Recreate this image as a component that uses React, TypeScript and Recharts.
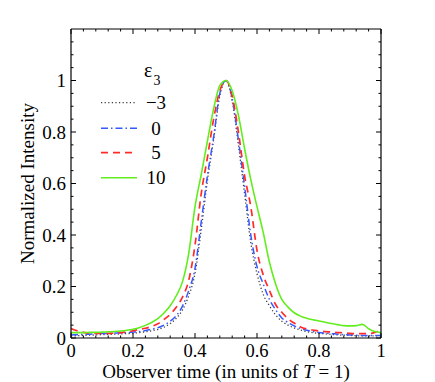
import { LineChart, Line, XAxis, YAxis, Legend } from "recharts";

// observer time samples (units of T)
const times = [
  0, 0.02, 0.04, 0.06, 0.08, 0.1, 0.12, 0.14, 0.16, 0.18, 0.2, 0.22, 0.24, 0.26, 0.28, 0.3, 0.32,
  0.34, 0.36, 0.38, 0.4, 0.42, 0.44, 0.46, 0.48, 0.5, 0.52, 0.54, 0.56, 0.58, 0.6, 0.62, 0.64,
  0.66, 0.68, 0.7, 0.72, 0.74, 0.76, 0.78, 0.8, 0.82, 0.84, 0.86, 0.88, 0.9, 0.92, 0.94, 0.96,
  0.98, 1,
];

// eps3 = -3
const intensityMinus3 = [
  0.008, 0.009, 0.01, 0.011, 0.012, 0.013, 0.014, 0.015, 0.016, 0.017, 0.019, 0.021, 0.024,
  0.028, 0.033, 0.042, 0.056, 0.077, 0.11, 0.165, 0.25, 0.42, 0.61, 0.77, 0.94, 1.0, 0.92, 0.75,
  0.56, 0.37, 0.25, 0.17, 0.125, 0.09, 0.065, 0.05, 0.039, 0.031, 0.025, 0.021, 0.018, 0.016,
  0.014, 0.012, 0.011, 0.01, 0.009, 0.008, 0.008, 0.008, 0.008,
];

// eps3 = 0
const intensity0 = [
  0.012, 0.013, 0.014, 0.015, 0.016, 0.017, 0.018, 0.019, 0.02, 0.021, 0.023, 0.025, 0.029,
  0.034, 0.04, 0.05, 0.065, 0.087, 0.125, 0.185, 0.27, 0.45, 0.63, 0.78, 0.95, 1.0, 0.93, 0.77,
  0.59, 0.4, 0.277, 0.21, 0.15, 0.11, 0.078, 0.06, 0.047, 0.037, 0.03, 0.025, 0.021, 0.019,
  0.017, 0.015, 0.013, 0.012, 0.011, 0.01, 0.01, 0.01, 0.01,
];

// eps3 = 5
const intensity5 = [
  0.037, 0.028, 0.022, 0.019, 0.018, 0.018, 0.018, 0.019, 0.021, 0.024, 0.028, 0.033, 0.038,
  0.045, 0.055, 0.072, 0.092, 0.12, 0.16, 0.225, 0.36, 0.56, 0.7, 0.85, 0.96, 1.0, 0.94, 0.8,
  0.63, 0.51, 0.34, 0.245, 0.185, 0.13, 0.1, 0.075, 0.058, 0.043, 0.035, 0.031, 0.027, 0.025,
  0.023, 0.021, 0.02, 0.018, 0.017, 0.017, 0.017, 0.022, 0.033,
];

// eps3 = 10
const intensity10 = [
  0.021, 0.021, 0.021, 0.022, 0.022, 0.023, 0.024, 0.025, 0.027, 0.03, 0.034, 0.04, 0.049, 0.06,
  0.075, 0.097, 0.125, 0.165, 0.22, 0.33, 0.51, 0.634, 0.764, 0.89, 0.98, 1.0, 0.96, 0.865,
  0.735, 0.615, 0.51, 0.41, 0.295, 0.21, 0.15, 0.12, 0.098, 0.085, 0.077, 0.071, 0.066, 0.061,
  0.056, 0.052, 0.048, 0.047, 0.048, 0.053, 0.036, 0.025, 0.021,
];

const xTicks = [
  0, 0.04, 0.08, 0.12, 0.16, 0.2, 0.24, 0.28, 0.32, 0.36, 0.4, 0.44, 0.48, 0.52, 0.56, 0.6, 0.64,
  0.68, 0.72, 0.76, 0.8, 0.84, 0.88, 0.92, 0.96, 1,
];
const yTicks = [
  0, 0.05, 0.1, 0.15, 0.2, 0.25, 0.3, 0.35, 0.4, 0.45, 0.5, 0.55, 0.6, 0.65, 0.7, 0.75, 0.8, 0.85,
  0.9, 0.95, 1, 1.05, 1.1, 1.15,
];
const majorLabels = ["0", "0.2", "0.4", "0.6", "0.8", "1"];

const series = [
  { key: "m3", label: "\u22123", values: intensityMinus3, color: "#3a3a3a", dash: "1.2 2.4", width: 1.3 },
  { key: "z0", label: "0", values: intensity0, color: "#3558ff", dash: "7 3 1.5 3", width: 1.5 },
  { key: "p5", label: "5", values: intensity5, color: "#ff2b2b", dash: "7 5", width: 1.7 },
  { key: "p10", label: "10", values: intensity10, color: "#62ee1e", dash: undefined, width: 1.6 },
];

const data = times.map((t, i) => {
  const row: Record<string, number> = { t };
  series.forEach((s) => (row[s.key] = s.values[i]));
  return row;
});

const serif = { fontFamily: "Liberation Serif, DejaVu Serif, serif" };

const majorIndex = (v: number) => {
  const k = Math.round(v * 5);
  return Math.abs(v * 5 - k) < 1e-6 && k <= 5 ? k : -1;
};

// ticks are drawn inward, labels only on bottom/left
const makeTick = (side: "bottom" | "top" | "left" | "right") => (props: any) => {
  const { x, y, payload } = props;
  const k = majorIndex(payload.value);
  const len = k >= 0 ? 5 : 2.5;
  let x2 = x;
  let y2 = y;
  if (side === "bottom") y2 = y - len;
  else if (side === "top") y2 = y + len;
  else if (side === "left") x2 = x + len;
  else x2 = x - len;
  return (
    <g>
      <line x1={x} y1={y} x2={x2} y2={y2} stroke="#000" strokeWidth={1} />
      {k >= 0 && side === "bottom" && (
        <text x={x} y={y + 19} textAnchor="middle" fontSize={18.5} style={serif} fill="#000">
          {majorLabels[k]}
        </text>
      )}
      {k >= 0 && side === "left" && (
        <text x={x - 5} y={y + 6.5} textAnchor="end" fontSize={19} style={serif} fill="#000">
          {majorLabels[k]}
        </text>
      )}
    </g>
  );
};

const rowY = [42.7, 68.3, 92.7, 117.7];

const renderLegend = () => (
  <svg width={90} height={130} style={{ display: "block", overflow: "visible" }}>
    <text x={49} y={16.5} fontSize={20} style={serif} fill="#000">
      ε
    </text>
    <text x={58.5} y={25} fontSize={14} style={serif} fill="#000">
      3
    </text>
    {series.map((s, i) => (
      <g key={s.key}>
        <line
          x1={6}
          x2={42}
          y1={rowY[i]}
          y2={rowY[i]}
          stroke={s.color}
          strokeWidth={s.width}
          strokeDasharray={s.dash}
        />
        <text x={61} y={rowY[i] + 6.5} textAnchor="middle" fontSize={19} style={serif} fill="#000">
          {s.label}
        </text>
      </g>
    ))}
  </svg>
);

const App = () => {
  return (
    <div style={{ position: "absolute", left: 0, top: 0, width: 435, height: 382, background: "#fff" }}>
      <LineChart width={435} height={382} data={data} margin={{ top: 0, right: 0, bottom: 0, left: 0 }}>
        <XAxis
          dataKey="t"
          type="number"
          domain={[0, 1]}
          ticks={xTicks}
          interval={0}
          allowDataOverflow
          height={44}
          tickSize={0}
          tickMargin={0}
          tickLine={false}
          axisLine={{ stroke: "#000", strokeWidth: 1.2 }}
          tick={makeTick("bottom")}
          label={{
            content: (p: any) => {
              const vb = p.viewBox;
              return (
                <text x={vb.x + vb.width / 2} y={vb.y + 40} textAnchor="middle" fontSize={19} style={serif} fill="#000">
                  Observer time (in units of <tspan fontStyle="italic">T</tspan> = 1)
                </text>
              );
            },
          }}
        />
        <XAxis
          xAxisId="top"
          orientation="top"
          dataKey="t"
          type="number"
          domain={[0, 1]}
          ticks={xTicks}
          interval={0}
          allowDataOverflow
          height={29}
          tickSize={0}
          tickMargin={0}
          tickLine={false}
          axisLine={{ stroke: "#000", strokeWidth: 1.2 }}
          tick={makeTick("top")}
        />
        <YAxis
          type="number"
          domain={[0, 1.2]}
          ticks={yTicks}
          interval={0}
          allowDataOverflow
          width={71}
          tickSize={0}
          tickMargin={0}
          tickLine={false}
          axisLine={{ stroke: "#000", strokeWidth: 1.2 }}
          tick={makeTick("left")}
          label={{
            content: (p: any) => {
              const vb = p.viewBox;
              const cx = vb.x + 27.5;
              const cy = vb.y + vb.height / 2;
              return (
                <text
                  x={cx}
                  y={cy}
                  transform={`rotate(-90 ${cx} ${cy})`}
                  textAnchor="middle"
                  dominantBaseline="central"
                  fontSize={19}
                  style={serif}
                  fill="#000"
                >
                  Normalized Intensity
                </text>
              );
            },
          }}
        />
        <YAxis
          yAxisId="right"
          orientation="right"
          type="number"
          domain={[0, 1.2]}
          ticks={yTicks}
          interval={0}
          allowDataOverflow
          width={54}
          tickSize={0}
          tickMargin={0}
          tickLine={false}
          axisLine={{ stroke: "#000", strokeWidth: 1.2 }}
          tick={makeTick("right")}
        />
        <Legend
          layout="vertical"
          align="center"
          verticalAlign="middle"
          wrapperStyle={{ left: 95, top: 60, width: 90, height: 130, margin: 0, padding: 0 }}
          content={renderLegend}
        />
        {series.map((s) => (
          <Line
            key={s.key}
            type="monotone"
            dataKey={s.key}
            stroke={s.color}
            strokeWidth={s.width}
            strokeDasharray={s.dash}
            dot={false}
            activeDot={false}
            isAnimationActive={false}
          />
        ))}
      </LineChart>
    </div>
  );
};

export default App;
